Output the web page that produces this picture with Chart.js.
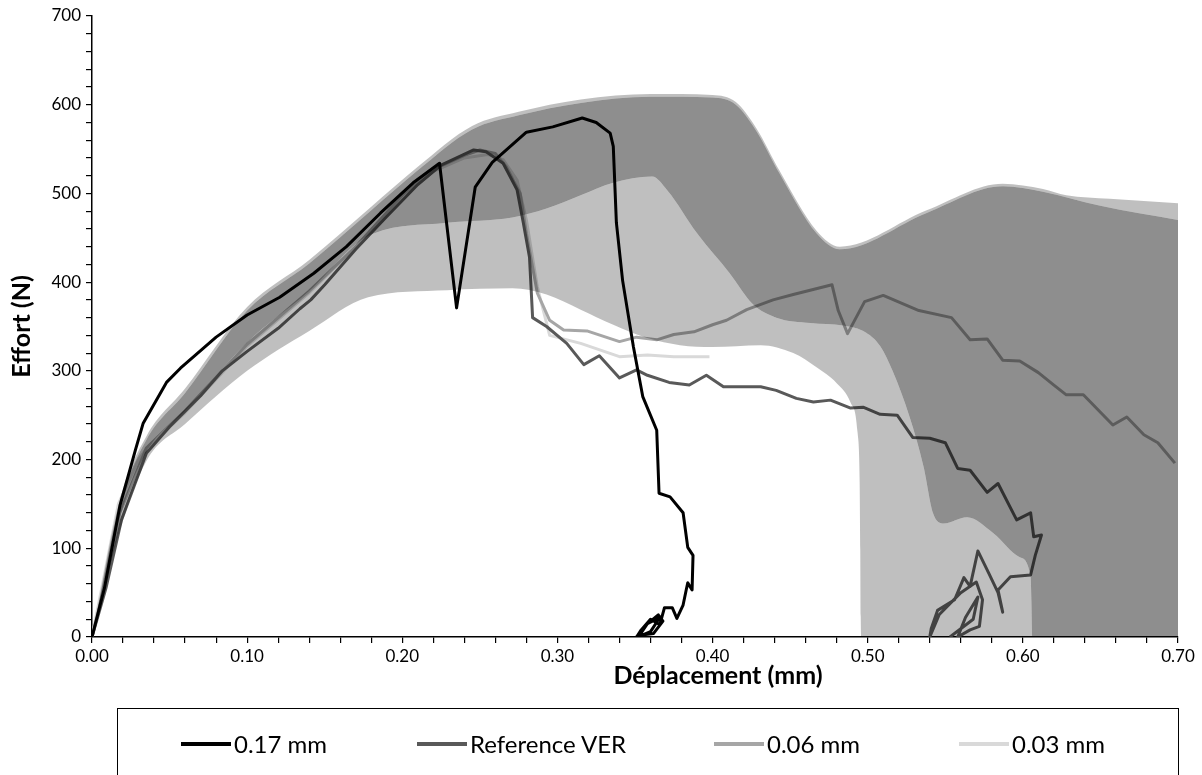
<!DOCTYPE html>
<html lang="fr">
<head>
<meta charset="utf-8">
<title>Effort - Déplacement</title>
<script src="https://cdn.jsdelivr.net/npm/chart.js@4.4.1/dist/chart.umd.min.js"></script>
<style>
    html, body { margin: 0; padding: 0; background: #fff; }
    #wrap { position: relative; width: 1202px; height: 775px; overflow: hidden; }
    #legendBox {
        position: absolute; left: 117px; top: 708px; width: 1062px; height: 90px;
        border: 1px solid #000; box-sizing: border-box;
        font-family: Lato, "Open Sans", sans-serif; font-size: 24px; color: #000;
    }
    .leg-item { position: absolute; top: 20px; display: flex; align-items: center; white-space: nowrap; }
    .leg-line { width: 50px; height: 4px; margin-right: 3px; }
</style>
</head>
<body>
<div id="wrap">
    <canvas id="effortChart" width="1202" height="775"></canvas>
    <div id="legendBox"></div>
</div>
<script>
// courbes mesurées [déplacement mm, effort N]
const curve017 = [[0,0],[0.008,55],[0.018,148],[0.028,211],[0.033,241],[0.048,287],[0.057,303],[0.080,338],[0.100,363],[0.121,383],[0.143,410],[0.164,440],[0.186,478],[0.207,512],[0.224,534],[0.235,371],[0.247,507],[0.258,535],[0.280,569],[0.297,575],[0.316,585],[0.325,580],[0.334,568],[0.336,553],[0.338,467],[0.342,402],[0.349,327],[0.355,271],[0.364,233],[0.3655,162],[0.3726,158],[0.381,140],[0.384,101],[0.3874,92],[0.3868,53],[0.384,61],[0.383,53],[0.381,36],[0.377,21],[0.374,33],[0.369,33],[0.366,14],[0.360,20],[0.354,8],[0.351,0],[0.356,12],[0.365,25],[0.368,18],[0.362,4],[0.353,2],[0.358,15],[0.366,22],[0.360,6],[0.352,0]];

const curveRef = [[0,0],[0.009,55],[0.019,132],[0.035,207],[0.05,237],[0.07,272],[0.084,300],[0.1,322],[0.12,348],[0.134,370],[0.141,380],[0.15,397],[0.17,437],[0.19,474],[0.21,510],[0.225,532],[0.246,549],[0.254,547],[0.265,534],[0.274,504],[0.278,467],[0.282,428],[0.284,360],[0.293,350],[0.306,331],[0.317,307],[0.327,317],[0.340,292],[0.351,301],[0.358,295],[0.372,287],[0.385,284],[0.396,295],[0.407,282],[0.431,282],[0.441,278],[0.454,269],[0.465,265],[0.476,267],[0.489,258],[0.497,259],[0.508,251],[0.519,250],[0.529,225],[0.540,224],[0.550,219],[0.558,190],[0.566,188],[0.577,163],[0.584,173],[0.596,132],[0.605,140],[0.607,113],[0.612,115],[0.608,92],[0.605,70],[0.592,68],[0.584,53],[0.587,28],[0.584,50],[0.578,72],[0.571,97],[0.566,57],[0.562,67],[0.556,42],[0.545,30],[0.541,10],[0.540,0],[0.546,25],[0.560,50],[0.570,62],[0.574,42],[0.572,12],[0.566,8],[0.558,0],[0.563,22],[0.571,45],[0.568,20],[0.553,0]];

const curve006 = [[0,0],[0.009,65],[0.018,140],[0.035,213],[0.06,255],[0.1,330],[0.14,390],[0.17,440],[0.2,498],[0.22,527],[0.24,543],[0.250,549],[0.26,545],[0.267,530],[0.276,500],[0.28,455],[0.287,388],[0.295,357],[0.304,346],[0.319,345],[0.340,333],[0.351,338],[0.364,335],[0.375,341],[0.388,344],[0.400,352],[0.409,357],[0.422,369],[0.439,380],[0.452,386],[0.477,397],[0.481,368],[0.487,342],[0.498,378],[0.510,385],[0.533,368],[0.554,360],[0.566,335],[0.577,336],[0.587,312],[0.598,311],[0.61,298],[0.62,284],[0.628,273],[0.639,273],[0.658,239],[0.667,248],[0.678,228],[0.687,219],[0.698,196]];

const curve003 = [[0,0],[0.008,70],[0.017,150],[0.03,200],[0.035,212],[0.06,253],[0.1,328],[0.14,388],[0.17,440],[0.2,497],[0.22,525],[0.24,540],[0.255,544],[0.265,538],[0.274,515],[0.28,470],[0.287,395],[0.295,340],[0.315,331],[0.340,316],[0.358,318],[0.375,316],[0.398,316]];

// enveloppes des zones grisées
const envOuter = [[0,0],[0.018,155],[0.035,226],[0.06,280],[0.1,372],[0.14,425],[0.18,485],[0.21,530],[0.245,576],[0.275,592],[0.315,606],[0.36,612],[0.40,611],[0.415,603],[0.428,574],[0.443,526],[0.467,458],[0.482,440],[0.538,481],[0.587,511],[0.613,505],[0.628,498],[0.656,494],[0.70,489]];
const envDarkTop = [[0,0],[0.018,150],[0.035,222],[0.06,275],[0.1,368],[0.14,421],[0.18,481],[0.21,526],[0.245,572],[0.275,588],[0.315,602],[0.36,609],[0.40,608],[0.415,600],[0.428,571],[0.443,523],[0.467,455],[0.482,437],[0.538,478],[0.587,508],[0.613,502],[0.65,486],[0.70,470]];
const envLightTop = [[0,0],[0.018,135],[0.035,208],[0.06,255],[0.1,332],[0.14,390],[0.178,452],[0.229,467],[0.271,473],[0.293,483],[0.315,498],[0.336,512],[0.361,519],[0.371,503],[0.39,455],[0.411,410],[0.426,375],[0.441,360],[0.463,354],[0.484,351],[0.499,343],[0.508,328],[0.516,300],[0.527,248],[0.536,192],[0.542,140],[0.549,128],[0.564,135],[0.581,117],[0.598,90],[0.605,68],[0.6055,40],[0.606,0],[0.70,0]];
const envLightBottom = [[0,0],[0.018,120],[0.035,198],[0.06,240],[0.1,300],[0.14,345],[0.178,383],[0.229,391],[0.271,393],[0.293,386],[0.315,369],[0.336,352],[0.358,337],[0.379,329],[0.40,327],[0.431,329],[0.452,320],[0.467,304],[0.480,286],[0.489,264],[0.4935,230],[0.4948,174],[0.4952,98],[0.4955,23],[0.4958,0],[0.70,0]];

const seriesNames = ['0.17 mm', 'Reference VER', '0.06 mm', '0.03 mm'];
const seriesColors = ['#000000', '#595959', '#a6a6a6', '#d9d9d9'];
const seriesData = [curve017, curveRef, curve006, curve003];

const xTicksMajor = [0, 0.1, 0.2, 0.3, 0.4, 0.5, 0.6, 0.7];
const yTicksMajor = [0, 100, 200, 300, 400, 500, 600, 700];

const DARK = 'rgba(0, 0, 0, 0.443)';
const LIGHT = 'rgba(0, 0, 0, 0.25)';
const FONT = 'Lato, "Open Sans", sans-serif';

function toPoints(pairs) {
    return pairs.map(p => ({ x: p[0], y: p[1] }));
}

function bandDataset(pairs, color, fill) {
    return {
        label: '',
        data: toPoints(pairs),
        borderWidth: 0,
        borderColor: 'transparent',
        backgroundColor: color,
        pointRadius: 0,
        fill: fill,
        cubicInterpolationMode: 'monotone',
        order: 0
    };
}

const datasets = [
    bandDataset(envOuter, LIGHT, '+1'),
    bandDataset(envDarkTop, DARK, '+1'),
    bandDataset(envLightTop, LIGHT, '+1'),
    bandDataset(envLightBottom, 'transparent', false)
];

seriesData.forEach((pairs, i) => {
    datasets.push({
        label: seriesNames[i],
        data: toPoints(pairs),
        borderColor: seriesColors[i],
        backgroundColor: seriesColors[i],
        borderWidth: 3,
        pointRadius: 0,
        tension: 0,
        fill: false,
        borderJoinStyle: 'round',
        order: 1
    });
});

function isOn(v, list) {
    return list.some(t => Math.abs(t - v) < 1e-6);
}

// titre de l'axe X, décalé à droite comme dans l'original
const xTitlePlugin = {
    id: 'xTitle',
    afterDraw(chart) {
        const c = chart.ctx;
        c.save();
        c.font = 'bold 25px ' + FONT;
        c.fillStyle = '#000';
        c.textAlign = 'center';
        c.textBaseline = 'middle';
        c.fillText('Déplacement (mm)', 718, 676);
        c.restore();
    }
};

const ctx = document.getElementById('effortChart').getContext('2d');
const effortChart = new Chart(ctx, {
    type: 'line',
    data: { datasets: datasets },
    plugins: [xTitlePlugin],
    options: {
        responsive: false,
        animation: false,
        layout: { padding: { top: 16, right: 24, bottom: 68, left: 0 } },
        plugins: {
            legend: { display: false },
            tooltip: { enabled: false }
        },
        scales: {
            x: {
                type: 'linear',
                min: 0,
                max: 0.7,
                ticks: {
                    stepSize: 0.02,
                    autoSkip: false,
                    maxRotation: 0,
                    padding: 3,
                    color: '#000',
                    font: { family: FONT, size: 17 },
                    callback: v => isOn(v, xTicksMajor) ? v.toFixed(2) : ''
                },
                grid: { drawOnChartArea: false, drawTicks: true, tickLength: 6, color: '#000', lineWidth: 1.2 },
                border: { display: true, color: '#000', width: 1.5 },
                afterFit: scale => { scale.height = 70; }
            },
            y: {
                type: 'linear',
                min: 0,
                max: 700,
                ticks: {
                    stepSize: 20,
                    autoSkip: false,
                    padding: 5,
                    color: '#000',
                    font: { family: FONT, size: 17 },
                    callback: v => isOn(v, yTicksMajor) ? String(v) : ''
                },
                grid: { drawOnChartArea: false, drawTicks: true, tickLength: 6, color: '#000', lineWidth: 1.2 },
                border: { display: true, color: '#000', width: 1.5 },
                title: {
                    display: true,
                    text: 'Effort (N)',
                    color: '#000',
                    font: { family: FONT, size: 25, weight: 'bold' },
                    padding: { top: 7, bottom: 0 }
                },
                afterFit: scale => { scale.width = 92; }
            }
        }
    }
});

// légende encadrée sous le graphique
const legendLeft = [63, 299, 596, 841];
const legendBox = document.getElementById('legendBox');
seriesNames.forEach((name, i) => {
    const item = document.createElement('div');
    item.className = 'leg-item';
    item.style.left = legendLeft[i] + 'px';
    item.innerHTML = `<span class="leg-line" style="background:${seriesColors[i]}"></span><span>${name}</span>`;
    legendBox.appendChild(item);
});
</script>
</body>
</html>
